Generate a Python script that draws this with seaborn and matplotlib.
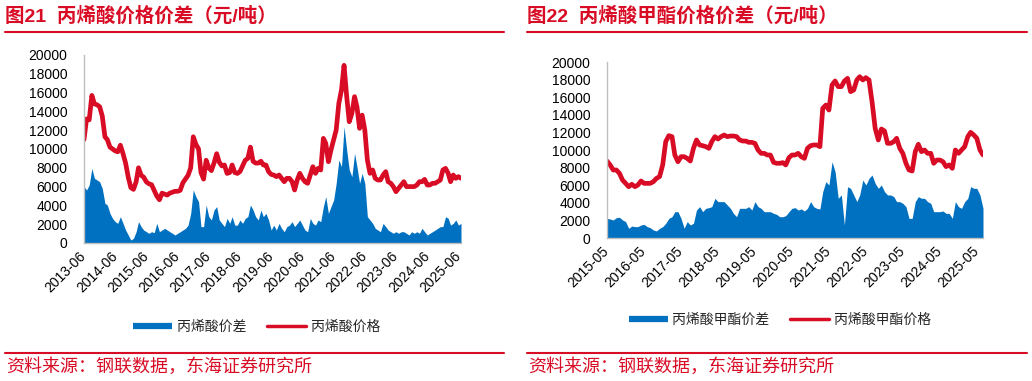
import matplotlib
matplotlib.use("Agg")
import matplotlib.pyplot as plt
import matplotlib.dates as mdates
from matplotlib.lines import Line2D
import seaborn as sns
import pandas as pd

# ---- data (monthly readings, 元/吨) ----
aa_dates = pd.date_range("2013-06-01", "2025-07-01", freq="MS")
aa_price = [11000, 13200, 13100, 15700, 14800, 14700, 14500, 13500, 11300, 11000,
            10200, 10000, 9800, 9700, 10400, 9500, 8500, 7000, 5900, 5700,
            6500, 8000, 7200, 7000, 6500, 6300, 6200, 5600, 5000, 4600,
            5300, 5200, 5100, 5300, 5400, 5500, 5500, 5600, 6400, 6800,
            7200, 8000, 11300, 10500, 10000, 7500, 6800, 8800, 8000, 7700,
            8500, 9500, 8600, 8200, 8300, 7400, 7500, 8300, 7500, 7400,
            7600, 8200, 8800, 9000, 10200, 8700, 8500, 8500, 8700, 8300,
            8300, 7600, 7300, 7230, 7060, 7230, 6880, 6520, 6880, 6880,
            6520, 5640, 6700, 7410, 6880, 6520, 6350, 7230, 8120, 7410,
            7940, 7770, 11130, 10600, 8650, 9890, 10960, 12020, 14860, 16280,
            18900, 15570, 12900, 13800, 15570, 14500, 12200, 13600, 12020, 8830,
            7410, 7770, 6880, 6700, 6700, 7230, 7590, 6520, 6350, 6000,
            5460, 5800, 6170, 6520, 6000, 6000, 6000, 6000, 6170, 6520,
            6520, 6770, 6170, 6170, 6350, 6350, 6520, 6700, 7770, 7940,
            7410, 6520, 7230, 6880, 7060, 6880]
aa_spread = [6000, 5640, 6170, 7940, 6880, 6700, 6520, 5800, 4220, 4040,
             3150, 2620, 2270, 2090, 2800, 2090, 1380, 850, 320, 500,
             1200, 2270, 1740, 1380, 1200, 1030, 1200, 1100, 2090, 1200,
             1380, 1560, 1380, 1200, 1030, 850, 1030, 1200, 1380, 1560,
             1900, 3150, 5640, 4930, 4400, 1740, 1740, 4040, 2800, 2450,
             3510, 3870, 2450, 2090, 1740, 2620, 2090, 2800, 1900, 1900,
             2450, 2090, 2620, 2800, 4040, 3510, 2800, 2450, 3510, 2800,
             3150, 2450, 1380, 1900, 1380, 2090, 1560, 1200, 1740, 1900,
             2270, 1740, 2090, 2450, 1900, 1380, 1200, 2620, 2090, 1900,
             2450, 2270, 3870, 4930, 3150, 3870, 4570, 6350, 8830, 8120,
             12380, 9890, 7770, 7060, 9540, 8120, 6350, 7410, 6350, 2800,
             2450, 2090, 1560, 1380, 1200, 2090, 1740, 1380, 1200, 1030,
             1200, 1030, 1200, 1200, 1030, 850, 1200, 1030, 1200, 1030,
             1560, 1200, 850, 1030, 1200, 1380, 1560, 1740, 1740, 2800,
             2620, 1900, 2090, 2450, 1900, 2090]

ma_dates = pd.date_range("2015-05-01", "2025-07-01", freq="MS")
ma_price = [8750, 8300, 7730, 7730, 7350, 6590, 6210, 5830, 6100, 5830,
            6020, 6480, 6210, 6210, 6210, 6400, 6780, 6970, 8300, 10950,
            11630, 11520, 9430, 8670, 9240, 9240, 9050, 8750, 10190, 11140,
            10570, 10490, 10380, 10190, 10950, 11520, 11250, 11520, 11700, 11520,
            11590, 11590, 11520, 11140, 11020, 11020, 10870, 10870, 10760, 10000,
            9620, 9620, 9430, 9430, 8600, 8490, 8490, 8560, 8300, 9130,
            9430, 9430, 9620, 9240, 9050, 10190, 10490, 10570, 10570, 10380,
            14730, 15110, 14540, 17390, 17840, 17200, 17200, 17840, 18140, 16630,
            16820, 17960, 18330, 17960, 18220, 17960, 15490, 12460, 11140, 12390,
            12160, 10760, 10760, 10950, 11330, 10190, 9620, 8490, 7730, 7610,
            9810, 10650, 9810, 10000, 9620, 9620, 8490, 8860, 8860, 8670,
            8110, 8300, 7920, 10000, 9620, 10000, 10380, 11520, 12010, 11700,
            11330, 10000, 9430]
ma_spread = [2230, 2160, 2050, 2310, 2350, 2050, 1860, 1100, 1360, 1290,
             1290, 1480, 1550, 1290, 1170, 910, 800, 1100, 1290, 1670,
             2230, 2420, 2990, 2990, 2230, 1100, 1860, 1480, 1670, 3180,
             3560, 2990, 3370, 3450, 3560, 4510, 4130, 4130, 4130, 3750,
             3370, 2800, 2420, 3370, 3370, 3370, 3560, 3180, 4130, 3560,
             3370, 2990, 2990, 2990, 2800, 2690, 2420, 2420, 2540, 2990,
             3370, 3450, 3180, 3300, 3070, 3370, 4130, 3560, 3370, 3300,
             5270, 6400, 6020, 8670, 7540, 4510, 4890, 1480, 5830, 5640,
             4890, 4130, 4890, 6590, 6020, 6780, 7160, 6210, 5640, 6020,
             5270, 4890, 4890, 4700, 4130, 4130, 3940, 3560, 2230, 2230,
             4130, 4700, 4510, 4510, 4130, 3940, 2990, 2990, 2990, 3070,
             2800, 2800, 2230, 4130, 3560, 3370, 4130, 4510, 5830, 5640,
             5640, 4890, 3370]

aa_ticks = pd.date_range("2013-06-01", "2025-06-01", freq="12MS")
ma_ticks = pd.date_range("2015-05-01", "2025-05-01", freq="12MS")

RED = "#D90C25"
BLUE = "#0070C0"
GREY = "#BFBFBF"

sns.set_theme(style="white")
plt.rcParams["font.family"] = ["Liberation Sans", "Noto Sans CJK SC"]

fig = plt.figure(figsize=(10.32, 3.81), dpi=100)
W, H = 1032, 381


def panel(rect, dates, spread, price, ticks, xmax):
    ax = fig.add_axes(rect)
    df = pd.DataFrame({"date": dates, "spread": spread, "price": price})
    ax.fill_between(df["date"], 0, df["spread"], color=BLUE, lw=0)
    sns.lineplot(data=df, x="date", y="price", color=RED, lw=3.4, ax=ax)
    ax.set_xlim(dates[0], pd.Timestamp(xmax))
    ax.set_ylim(0, 20000)
    ax.set_yticks(range(0, 20001, 2000))
    ax.set_xticks(ticks)
    ax.xaxis.set_major_formatter(mdates.DateFormatter("%Y-%m"))
    ax.set_xlabel("")
    ax.set_ylabel("")
    for s in ["top", "right"]:
        ax.spines[s].set_visible(False)
    for s in ["left", "bottom"]:
        ax.spines[s].set_color(GREY)
        ax.spines[s].set_linewidth(1)
    ax.tick_params(axis="both", length=4, width=1, color=GREY,
                   labelsize=10, labelcolor="black")
    ax.tick_params(axis="y", pad=8)
    ax.tick_params(axis="x", pad=4)
    for lab in ax.get_xticklabels():
        lab.set_rotation(45)
        lab.set_ha("right")
        lab.set_va("center")
        lab.set_rotation_mode("anchor")
    return ax


panel([84 / W, 1 - 243 / H, (461 - 84) / W, (243 - 55) / H],
      aa_dates, aa_spread, aa_price, aa_ticks, "2025-07-01")
panel([607 / W, 1 - 238 / H, (983 - 607) / W, (238 - 62) / H],
      ma_dates, ma_spread, ma_price, ma_ticks, "2025-07-01")

# titles, rules, source notes
for x0, x1, title in [(5, 504, "图21  丙烯酸价格价差（元/吨）"),
                      (527, 1027, "图22  丙烯酸甲酯价格价差（元/吨）")]:
    fig.text(x0 / W, 1 - 16 / H, title, color=RED, fontsize=14,
             fontweight="bold", va="center", ha="left")
    fig.add_artist(Line2D([x0 / W, x1 / W], [1 - 32 / H, 1 - 32 / H],
                          color=RED, lw=1.5, transform=fig.transFigure))
    fig.add_artist(Line2D([x0 / W, x1 / W], [1 - 353 / H, 1 - 353 / H],
                          color=RED, lw=1.5, transform=fig.transFigure))
    fig.text((x0 + 1) / W, 1 - 367 / H, "资料来源：钢联数据，东海证券研究所",
             color=RED, fontsize=13, va="center", ha="left")

# legends
for cx, cy, names in [(257, 327, ["丙烯酸价差", "丙烯酸价格"]),
                      (780, 320, ["丙烯酸甲酯价差", "丙烯酸甲酯价格"])]:
    handles = [Line2D([], [], color=BLUE, lw=4.5, solid_capstyle="butt"),
               Line2D([], [], color=RED, lw=2.5)]
    fig.legend(handles, names, loc="center", ncol=2, frameon=False,
               bbox_to_anchor=(cx / W, 1 - cy / H), fontsize=10,
               handlelength=2.8, handletextpad=0.35, columnspacing=1.5)

fig.savefig("out.png", dpi=100)
